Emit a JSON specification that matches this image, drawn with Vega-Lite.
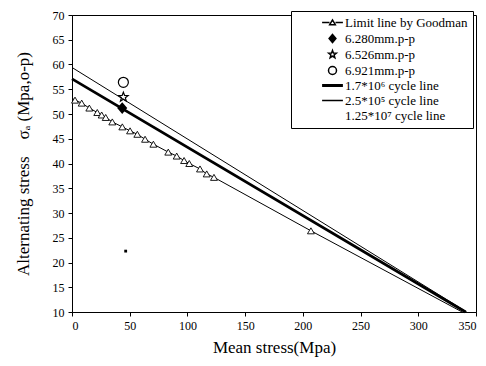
{
  "$schema": "https://vega.github.io/schema/vega-lite/v6.json",
  "width": 404,
  "height": 297,
  "autosize": {"type": "none"},
  "padding": {"left": 72, "top": 15, "right": 10, "bottom": 54},
  "background": "white",
  "config": {
    "view": {"stroke": "black", "strokeWidth": 1},
    "font": "Liberation Serif",
    "axis": {
      "grid": false,
      "domainColor": "black",
      "tickColor": "black",
      "labelColor": "black",
      "titleColor": "black",
      "labelFont": "Liberation Serif",
      "titleFont": "Liberation Serif",
      "labelFontSize": 12,
      "titleFontSize": 17,
      "titleFontWeight": "normal",
      "tickSize": 4
    },
    "legend": {"labelFont": "Liberation Serif", "labelColor": "black", "symbolStrokeColor": "black"}
  },
  "data": {
    "values": [
      {"series": "Limit line by Goodman", "role": "line", "x": 0, "y": 53.2},
      {"series": "Limit line by Goodman", "role": "tri", "x": 2.6, "y": 52.8},
      {"series": "Limit line by Goodman", "role": "tri", "x": 8.4, "y": 52.2},
      {"series": "Limit line by Goodman", "role": "tri", "x": 15, "y": 51.2},
      {"series": "Limit line by Goodman", "role": "tri", "x": 21.9, "y": 50.3},
      {"series": "Limit line by Goodman", "role": "tri", "x": 25.7, "y": 49.8},
      {"series": "Limit line by Goodman", "role": "tri", "x": 29.2, "y": 49.3},
      {"series": "Limit line by Goodman", "role": "tri", "x": 34.9, "y": 48.4},
      {"series": "Limit line by Goodman", "role": "tri", "x": 43.6, "y": 47.4},
      {"series": "Limit line by Goodman", "role": "tri", "x": 50.3, "y": 46.6},
      {"series": "Limit line by Goodman", "role": "tri", "x": 56.6, "y": 45.9},
      {"series": "Limit line by Goodman", "role": "tri", "x": 63.3, "y": 44.9},
      {"series": "Limit line by Goodman", "role": "tri", "x": 70.5, "y": 43.9},
      {"series": "Limit line by Goodman", "role": "tri", "x": 83.4, "y": 42.3},
      {"series": "Limit line by Goodman", "role": "tri", "x": 90.7, "y": 41.5},
      {"series": "Limit line by Goodman", "role": "tri", "x": 97.1, "y": 40.6},
      {"series": "Limit line by Goodman", "role": "tri", "x": 101.6, "y": 40.0},
      {"series": "Limit line by Goodman", "role": "tri", "x": 110.9, "y": 38.9},
      {"series": "Limit line by Goodman", "role": "tri", "x": 116.7, "y": 37.9},
      {"series": "Limit line by Goodman", "role": "tri", "x": 123, "y": 37.2},
      {"series": "Limit line by Goodman", "role": "tri", "x": 207, "y": 26.4},
      {"series": "Limit line by Goodman", "role": "line", "x": 338, "y": 10},
      {"series": "1.7*10⁶ cycle line", "role": "line", "x": 0, "y": 57.1},
      {"series": "1.7*10⁶ cycle line", "role": "line", "x": 341, "y": 10},
      {"series": "2.5*10⁵ cycle line", "role": "line", "x": 0, "y": 59.4},
      {"series": "2.5*10⁵ cycle line", "role": "line", "x": 342, "y": 10},
      {"series": "6.280mm.p-p", "role": "pt", "x": 43.5, "y": 51.2},
      {"series": "6.526mm.p-p", "role": "pt", "x": 44.5, "y": 53.4},
      {"series": "6.921mm.p-p", "role": "pt", "x": 44.5, "y": 56.4},
      {"series": "stray", "role": "dot", "x": 46.5, "y": 22.3}
    ]
  },
  "encoding": {
    "x": {
      "field": "x", "type": "quantitative",
      "scale": {"domain": [0, 350], "nice": false, "zero": false},
      "axis": {"values": [0, 50, 100, 150, 200, 250, 300, 350], "title": "Mean stress(Mpa)", "titlePadding": 8, "labelPadding": 4}
    },
    "y": {
      "field": "y", "type": "quantitative",
      "scale": {"domain": [10, 70], "nice": false, "zero": false},
      "axis": {"values": [10, 15, 20, 25, 30, 35, 40, 45, 50, 55, 60, 65, 70], "title": "Alternating stress\u00a0\u00a0\u00a0\u00a0σₐ (Mpa,o-p)", "titlePadding": 20, "labelPadding": 4}
    }
  },
  "layer": [
    {
      "transform": [{"filter": "datum.series === 'Limit line by Goodman'"}],
      "mark": {"type": "line", "color": "black", "strokeWidth": 1},
      "encoding": {"order": {"field": "x", "type": "quantitative"}}
    },
    {
      "transform": [{"filter": "datum.series === '1.7*10⁶ cycle line'"}],
      "mark": {"type": "line", "color": "black", "strokeWidth": 2.8},
      "encoding": {}
    },
    {
      "transform": [{"filter": "datum.series === '2.5*10⁵ cycle line'"}],
      "mark": {"type": "line", "color": "black", "strokeWidth": 1},
      "encoding": {}
    },
    {
      "transform": [{"filter": "datum.role === 'tri'"}],
      "mark": {"type": "point", "shape": "triangle-up", "size": 48, "fill": "white", "stroke": "black", "strokeWidth": 0.9, "opacity": 1, "filled": true}
    },
    {
      "transform": [{"filter": "datum.role === 'dot'"}],
      "mark": {"type": "point", "shape": "square", "size": 8, "fill": "black", "strokeWidth": 0, "filled": true, "opacity": 1}
    },
    {
      "transform": [{"filter": "datum.role === 'pt'"}],
      "mark": {"type": "point", "size": 100, "opacity": 1, "filled": false, "color": "black", "strokeWidth": 1.2},
      "encoding": {
        "shape": {
          "field": "series", "type": "nominal",
          "scale": {
            "domain": ["Limit line by Goodman", "6.280mm.p-p", "6.526mm.p-p", "6.921mm.p-p", "1.7*10⁶ cycle line", "2.5*10⁵ cycle line", "1.25*10⁷ cycle line"],
            "range": [
              "M-2.6,0H-0.75M0.75,0H2.6M-0.7,0.55L0,-0.65L0.7,0.55Z",
              "M0,-1L0.85,0L0,1L-0.85,0Z M0,-0.72L0.61,0L0,0.72L-0.61,0Z M0,-0.45L0.38,0L0,0.45L-0.38,0Z M0,-0.2L0.17,0L0,0.2L-0.17,0Z",
              "M0,-1L0.247,-0.34L0.951,-0.309L0.399,0.13L0.588,0.809L0,0.42L-0.588,0.809L-0.399,0.13L-0.951,-0.309L-0.247,-0.34Z",
              "circle",
              "M-2.6,-0.17H2.6M-2.6,0H2.6M-2.6,0.17H2.6",
              "M-2.6,0H2.6",
              "M0,0Z"
            ]
          },
          "legend": {
            "title": null,
            "orient": "none",
            "legendX": 219,
            "legendY": -4,
            "strokeColor": "black",
            "fillColor": "white",
            "padding": 5,
            "symbolOffset": 30,
            "symbolSize": 64,
            "labelFontSize": 13,
            "labelOffset": 6,
            "rowPadding": 1,
            "cornerRadius": 0,
            "encode": {
              "symbols": {
                "enter": {"stroke": {"value": "black"}, "strokeWidth": {"value": 1}, "opacity": {"value": 1}, "strokeOpacity": {"value": 1}, "fill": {"value": "transparent"}},
                "update": {"stroke": {"value": "black"}, "strokeWidth": {"value": 1}, "opacity": {"value": 1}, "strokeOpacity": {"value": 1}, "fill": {"value": "transparent"}}
              }
            }
          }
        }
      }
    }
  ]
}
